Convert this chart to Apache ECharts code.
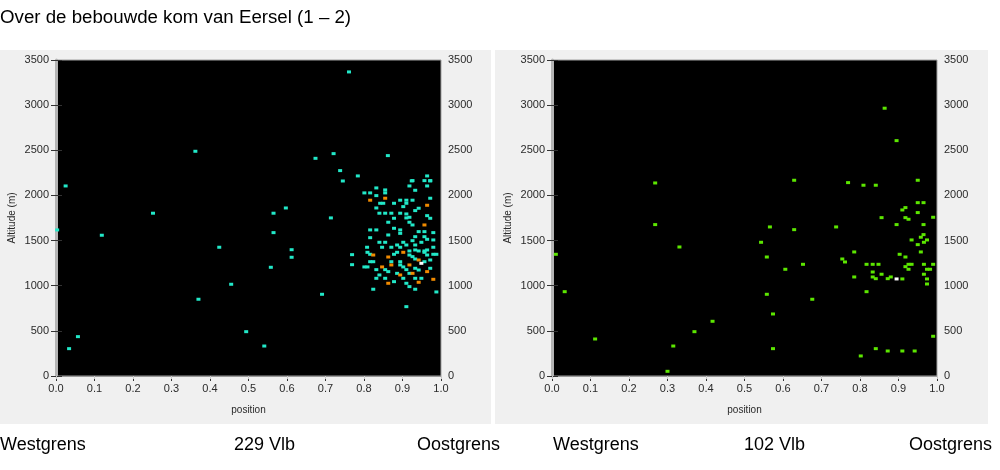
<!DOCTYPE html>
<html>
<head>
<meta charset="utf-8">
<script src="https://cdn.jsdelivr.net/npm/echarts@6/dist/echarts.min.js"></script>
<style>
html,body{margin:0;padding:0;background:#fff;}
#c{width:1000px;height:470px;}
</style>
</head>
<body>
<div id="c"></div>
<script>
// ---- data ----
const titleText = "Over de bebouwde kom van Eersel (1 \u2013 2)";
const bottomLabels = ["Westgrens", "229 Vlb", "Oostgrens", "Westgrens", "102 Vlb", "Oostgrens"];
const xTicks = [0, 0.1, 0.2, 0.3, 0.4, 0.5, 0.6, 0.7, 0.8, 0.9, 1.0];
const yTicks = [0, 500, 1000, 1500, 2000, 2500, 3000, 3500];

const leftCyan = [
[0.761,3368],[0.362,2489],[0.674,2411],[0.721,2463],[0.738,2275],[0.745,2160],[0.784,2216],[0.862,2441],
[0.025,2105],[0.003,1618],[0.119,1559],[0.252,1803],[0.424,1426],[0.455,1016],[0.370,850],[0.494,491],
[0.541,332],[0.057,436],[0.034,303],[0.565,1803],[0.597,1861],[0.565,1588],[0.612,1399],[0.612,1315],
[0.558,1204],[0.714,1751],[0.691,905],[0.769,1344],[0.769,1233],
[0.964,2216],[0.926,2164],[0.957,2164],[0.972,2164],[0.918,2105],[0.964,2105],[0.832,2083],[0.855,2061],
[0.855,2028],[0.933,2057],[0.801,2028],[0.816,2028],[0.832,1998],[0.894,1947],[0.910,1947],[0.926,1947],
[0.972,1969],[0.910,1913],[0.842,1913],[0.850,1913],[0.878,1913],[0.902,1876],[0.832,1861],[0.942,1858],
[0.840,1803],[0.855,1803],[0.871,1803],[0.894,1803],[0.910,1795],[0.910,1751],[0.918,1758],[0.933,1832],
[0.878,1747],[0.964,1776],[0.972,1747],[0.863,1703],[0.918,1703],[0.926,1673],[0.816,1618],[0.832,1618],
[0.878,1636],[0.894,1618],[0.942,1599],[0.957,1599],[0.980,1588],[0.863,1562],[0.894,1580],[0.933,1543],
[0.957,1543],[0.816,1532],[0.964,1514],[0.840,1481],[0.855,1481],[0.926,1499],[0.902,1481],[0.949,1481],
[0.980,1507],[0.886,1451],[0.910,1451],[0.933,1451],[0.933,1396],[0.808,1426],[0.847,1426],[0.871,1426],
[0.894,1426],[0.980,1426],[0.964,1396],[0.918,1385],[0.942,1385],[0.957,1385],[0.809,1370],[0.816,1348],
[0.878,1348],[0.886,1370],[0.918,1340],[0.926,1322],[0.957,1370],[0.964,1340],[0.980,1348],[0.988,1348],
[0.933,1296],[0.816,1266],[0.824,1266],[0.871,1266],[0.894,1266],[0.957,1266],[0.972,1285],[0.801,1208],
[0.809,1208],[0.832,1178],[0.855,1178],[0.863,1156],[0.894,1230],[0.902,1208],[0.910,1178],[0.933,1193],
[0.942,1174],[0.972,1193],[0.886,1137],[0.918,1137],[0.840,1119],[0.832,1082],[0.855,1082],[0.878,1045],
[0.902,1082],[0.910,1027],[0.933,1082],[0.949,1082],[0.918,990],[0.933,961],[0.824,961],[0.988,931],
[0.910,768],[0.972,2161],[0.924,2161]
];
const leftOrange = [
[0.816,1947],[0.855,1969],[0.964,1891],[0.957,1673],[0.824,1340],[0.902,1370],[0.863,1318],[0.942,1285],
[0.871,1230],[0.918,1230],[0.847,1208],[0.964,1156],[0.894,1119],[0.926,1137],[0.863,1027],[0.942,1038],
[0.980,1071]
];
const leftWhite = [[0.949,1248]];

const rightGreen = [
[0.268,2138],[0.268,1677],[0.331,1429],[0.010,1348],[0.033,934],[0.112,410],[0.315,332],[0.300,52],
[0.370,491],[0.417,606],[0.566,1651],[0.543,1481],[0.558,1318],[0.606,1182],[0.558,905],[0.574,687],
[0.574,303],[0.629,2168],[0.629,1621],[0.652,1237],[0.676,850],[0.738,1651],[0.769,2142],[0.754,1296],
[0.761,1263],[0.785,1374],[0.785,1097],[0.809,2113],[0.841,2113],[0.864,2966],[0.895,2607],[0.817,1237],
[0.833,1237],[0.848,1237],[0.833,1152],[0.833,1097],[0.841,1078],[0.856,1127],[0.872,1078],[0.880,1097],
[0.910,1075],[0.817,934],[0.856,1754],[0.895,1677],[0.903,1348],[0.910,1839],[0.918,1865],[0.918,1754],
[0.926,1736],[0.918,1318],[0.918,1211],[0.926,1237],[0.934,1237],[0.926,1182],[0.950,1810],[0.950,1920],
[0.965,1920],[0.950,2168],[0.934,1507],[0.950,1455],[0.958,1537],[0.965,1566],[0.958,1374],[0.965,1677],
[0.966,1481],[0.974,1507],[0.966,1237],[0.974,1182],[0.982,1182],[0.966,1127],[0.974,1075],[0.974,1019],
[0.990,1237],[0.990,1758],[0.990,440],[0.841,303],[0.802,222],[0.872,277],[0.910,277],[0.942,277]
];
const rightWhite = [[0.895,1075]];

// ---- chart ----
const chart = echarts.init(document.getElementById('c'), null, {renderer: 'canvas'});
const FONT = 'Liberation Sans';
const tickLabelStyle = {color: '#2a2a2a', fontFamily: FONT, fontSize: 11};
const gridDefs = [{left: 56, top: 60, width: 385, height: 316}, {left: 552, top: 60, width: 385, height: 316}];

function xBottom(g) {
  return {
    type: 'value', gridIndex: g, min: 0, max: 1, interval: 0.1, position: 'bottom',
    name: 'position', nameLocation: 'middle', nameGap: 29,
    nameTextStyle: {color: '#2a2a2a', fontFamily: FONT, fontSize: 10},
    axisLine: {show: true, lineStyle: {color: '#9a9a9a', width: 1}},
    axisTick: {show: true, length: 5, lineStyle: {color: '#333'}},
    axisLabel: Object.assign({margin: 7, formatter: v => v.toFixed(1)}, tickLabelStyle),
    splitLine: {show: false}
  };
}
function xTop(g) {
  return {
    type: 'value', gridIndex: g, min: 0, max: 1, interval: 0.1, position: 'top',
    axisLine: {show: false},
    axisTick: {show: true, inside: true, length: 3, lineStyle: {color: '#c8c8c8'}},
    axisLabel: {show: false}, splitLine: {show: false}
  };
}
function yLeft(g) {
  return {
    type: 'value', gridIndex: g, min: 0, max: 3500, interval: 500, position: 'left',
    name: 'Altitude (m)', nameLocation: 'middle', nameGap: 39, nameRotate: 90,
    nameTextStyle: {color: '#2a2a2a', fontFamily: FONT, fontSize: 10},
    axisLine: {show: true, lineStyle: {color: '#8a8a8a', width: 1}},
    axisTick: {show: true, length: 5, lineStyle: {color: '#333'}},
    axisLabel: Object.assign({margin: 7, formatter: v => String(v)}, tickLabelStyle),
    splitLine: {show: false}
  };
}
function yRight(g) {
  return {
    type: 'value', gridIndex: g, min: 0, max: 3500, interval: 500, position: 'right',
    axisLine: {show: true, lineStyle: {color: '#b4b4b4', width: 3}},
    axisTick: {show: true, length: 6, lineStyle: {color: '#333'}},
    axisLabel: Object.assign({margin: 7, formatter: v => String(v)}, tickLabelStyle),
    splitLine: {show: false}
  };
}
function pts(data, color, xi, yi) {
  return {
    type: 'scatter', xAxisIndex: xi, yAxisIndex: yi, data: data,
    symbol: 'rect', symbolSize: [4, 3], silent: true, animation: false,
    itemStyle: {color: color, opacity: 1}
  };
}

const graphics = [
  {type: 'rect', z: -10, shape: {x: 0, y: 50, width: 491, height: 374}, style: {fill: '#f0f0f0'}},
  {type: 'rect', z: -10, shape: {x: 495, y: 50, width: 493, height: 374}, style: {fill: '#f0f0f0'}},
  {type: 'text', left: 0, top: 8, style: {text: titleText, font: '18.7px "Liberation Sans"', fill: '#000'}}
];
const bx = [0, 234, 417, 553, 744, 909];
bottomLabels.forEach((t, i) => {
  graphics.push({type: 'text', left: bx[i], top: 436, style: {text: t, font: '18px "Liberation Sans"', fill: '#000'}});
});

chart.setOption({
  animation: false,
  backgroundColor: '#ffffff',
  grid: gridDefs.map(g => Object.assign({show: true, backgroundColor: '#000000', borderColor: '#a0a0a0', borderWidth: 1}, g)),
  xAxis: [xBottom(0), xTop(0), xBottom(1), xTop(1)],
  yAxis: [yLeft(0), yRight(0), yLeft(1), yRight(1)],
  graphic: graphics,
  series: [
    pts(leftCyan, '#22e8c8', 0, 0),
    pts(leftOrange, '#f08a00', 0, 0),
    pts(leftWhite, '#ffffff', 0, 0),
    pts(rightGreen, '#5ce600', 2, 2),
    pts(rightWhite, '#ffffff', 2, 2)
  ]
});
</script>
</body>
</html>
